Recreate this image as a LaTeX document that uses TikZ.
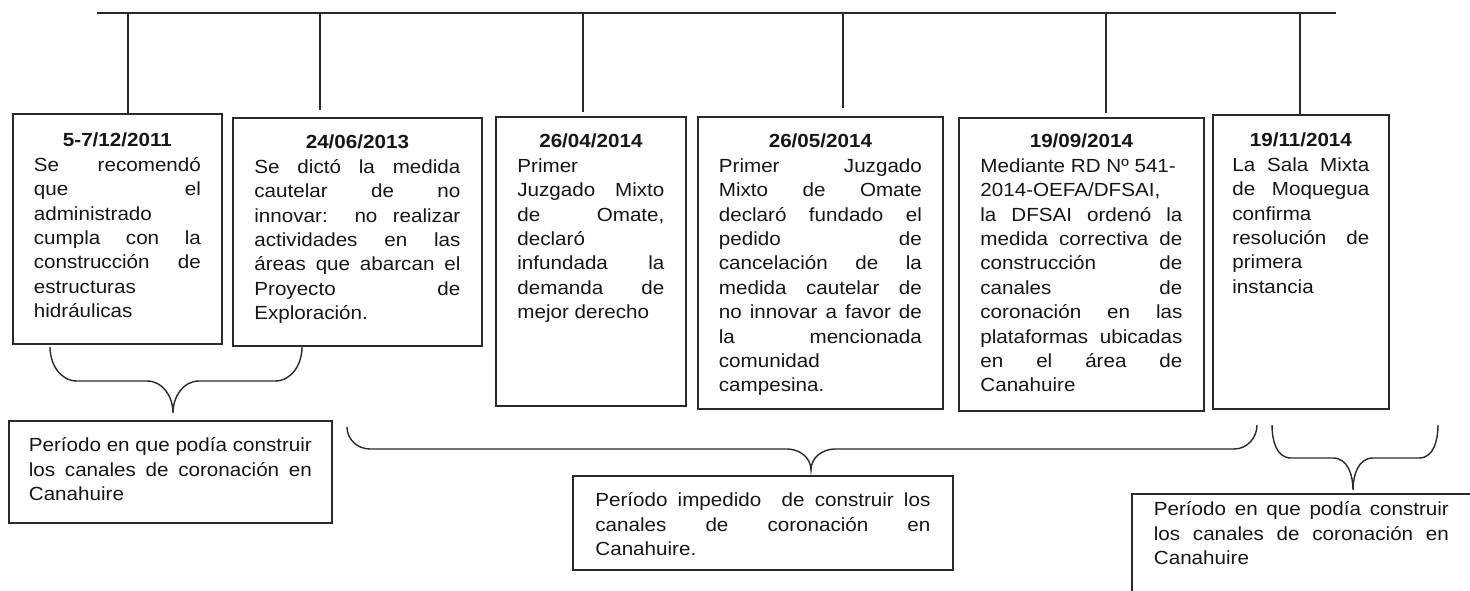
\documentclass[tikz,border=0pt]{standalone}
\usepackage{fontspec}
\setmainfont{Liberation Sans}[FakeStretch=1.085]
\definecolor{ln}{HTML}{2A2A2A}
\definecolor{tx}{HTML}{161616}
\newcommand\J[1]{\makebox[\hsize][s]{#1}}
% H, W, first-baseline offset, date, body
\newcommand\bxt[5]{\parbox[b][#1pt][t]{#2pt}{\fontsize{19}{24.4}\selectfont\color{tx}{\centering\bfseries\rule{0pt}{#3pt}#4\par}#5}}
% H, W, first-baseline offset, body
\newcommand\bxb[4]{\parbox[b][#1pt][t]{#2pt}{\fontsize{19}{24.4}\selectfont\color{tx}\leavevmode\rule{0pt}{#3pt}#4}}
% xl, ytl, xr, ytr, yh, xtip, ytip, r, r2
\newcommand\cbrace[9]{\draw[conn] (#1,#2) to[out=-90,in=180] ({#1+#8},#5) -- ({#6-#9},#5) to[out=0,in=90] (#6,#7) to[out=90,in=180] ({#6+#9},#5) -- ({#3-#8},#5) to[out=0,in=-90] (#3,#4);}
\tikzset{
  box/.style={draw=ln, line width=1.8pt, inner sep=0pt, anchor=north west},
  conn/.style={draw=ln, line width=1.4pt},
  tline/.style={draw=ln, line width=1.8pt},
  frame/.style={draw=ln, line width=1.8pt}
}
\begin{document}
\begin{tikzpicture}[x=1pt,y=-1pt]
\clip (0,0) rectangle (1470,591);
\fill[white] (0,0) rectangle (1470,591);

% timeline
\coordinate (tl) at (97,13);
\coordinate (tr) at (1336,13);
\draw[tline] (tl) -- (tr);
\coordinate (t1) at (128,13);
\coordinate (t2) at (320,13);
\coordinate (t3) at (583,13);
\coordinate (t4) at (843,13);
\coordinate (t5) at (1106,13);
\coordinate (t6) at (1300,13);

% boxes
\node[box, minimum width=209pt] (b1) at (12,113) {\bxt{230}{167}{33}{5-7/12/2011}{%
\J{Se recomendó}\\ \J{que el}\\ administrado\\ \J{cumpla con la}\\ \J{construcción de}\\ estructuras\\ hidráulicas}};

\node[box, minimum width=249pt] (b2) at (232,117) {\bxt{228}{206}{31}{24/06/2013}{%
\J{Se dictó la medida}\\ \J{cautelar de no}\\ \J{innovar: no realizar}\\ \J{actividades en las}\\ \J{áreas que abarcan el}\\ \J{Proyecto de}\\ Exploración.}};

\node[box, minimum width=190pt] (b3) at (495,116) {\bxt{289}{147}{31}{26/04/2014}{%
Primer\\ \J{Juzgado Mixto}\\ \J{de Omate,}\\ declaró\\ \J{infundada la}\\ \J{demanda de}\\ mejor derecho}};

\node[box, minimum width=245pt] (b4) at (697,116) {\bxt{292}{203}{31}{26/05/2014}{%
\J{Primer Juzgado}\\ \J{Mixto de Omate}\\ \J{declaró fundado el}\\ \J{pedido de}\\ \J{cancelación de la}\\ \J{medida cautelar de}\\ \J{no innovar a favor de}\\ \J{la mencionada}\\ comunidad\\ campesina.}};

\node[box, minimum width=245pt] (b5) at (958,117) {\bxt{293}{202}{30}{19/09/2014}{%
Mediante RD Nº 541-\\ 2014-OEFA/DFSAI,\\ \J{la DFSAI ordenó la}\\ \J{medida correctiva de}\\ \J{construcción de}\\ \J{canales de}\\ \J{coronación en las}\\ \J{plataformas ubicadas}\\ \J{en el área de}\\ Canahuire}};

\node[box, minimum width=176pt] (b6) at (1212,114) {\bxt{294}{137}{32}{19/11/2014}{%
\J{La Sala Mixta}\\ \J{de Moquegua}\\ confirma\\ \J{resolución de}\\ primera\\ instancia}};

\node[box, minimum width=323pt] (b7) at (8,420) {\bxb{102}{283}{31}{%
\J{Período en que podía construir}\\ \J{los canales de coronación en}\\ Canahuire}};

\node[box, minimum width=380pt] (b8) at (572,475) {\bxb{94}{335}{31}{%
\J{Período impedido \ de construir los}\\ \J{canales de coronación en}\\ Canahuire.}};

\node[box, draw=none, minimum width=337pt] (b9) at (1132,494) {\bxb{130}{295}{21}{%
\J{Período en que podía construir}\\ \J{los canales de coronación en}\\ Canahuire}};
\draw[frame] (b9.south west) -- (b9.north west) -- ([xshift=30pt]b9.north east);

% ticks
\draw[conn] (t1) -- (t1 |- b1.north);
\draw[conn] (t2) -- ([yshift=7pt]t2 |- b2.north);
\draw[conn] (t3) -- ([yshift=4pt]t3 |- b3.north);
\draw[conn] (t4) -- ([yshift=8pt]t4 |- b4.north);
\draw[conn] (t5) -- ([yshift=4pt]t5 |- b5.north);
\draw[conn] (t6) -- (t6 |- b6.north);

% braces
\cbrace{50}{347}{302}{347}{381}{173}{413}{27}{26}
\cbrace{347}{427}{1257}{425}{449}{811}{470}{23}{24}
\cbrace{1272}{425}{1438}{425}{458}{1353}{490}{19}{20}
\end{tikzpicture}
\end{document}
